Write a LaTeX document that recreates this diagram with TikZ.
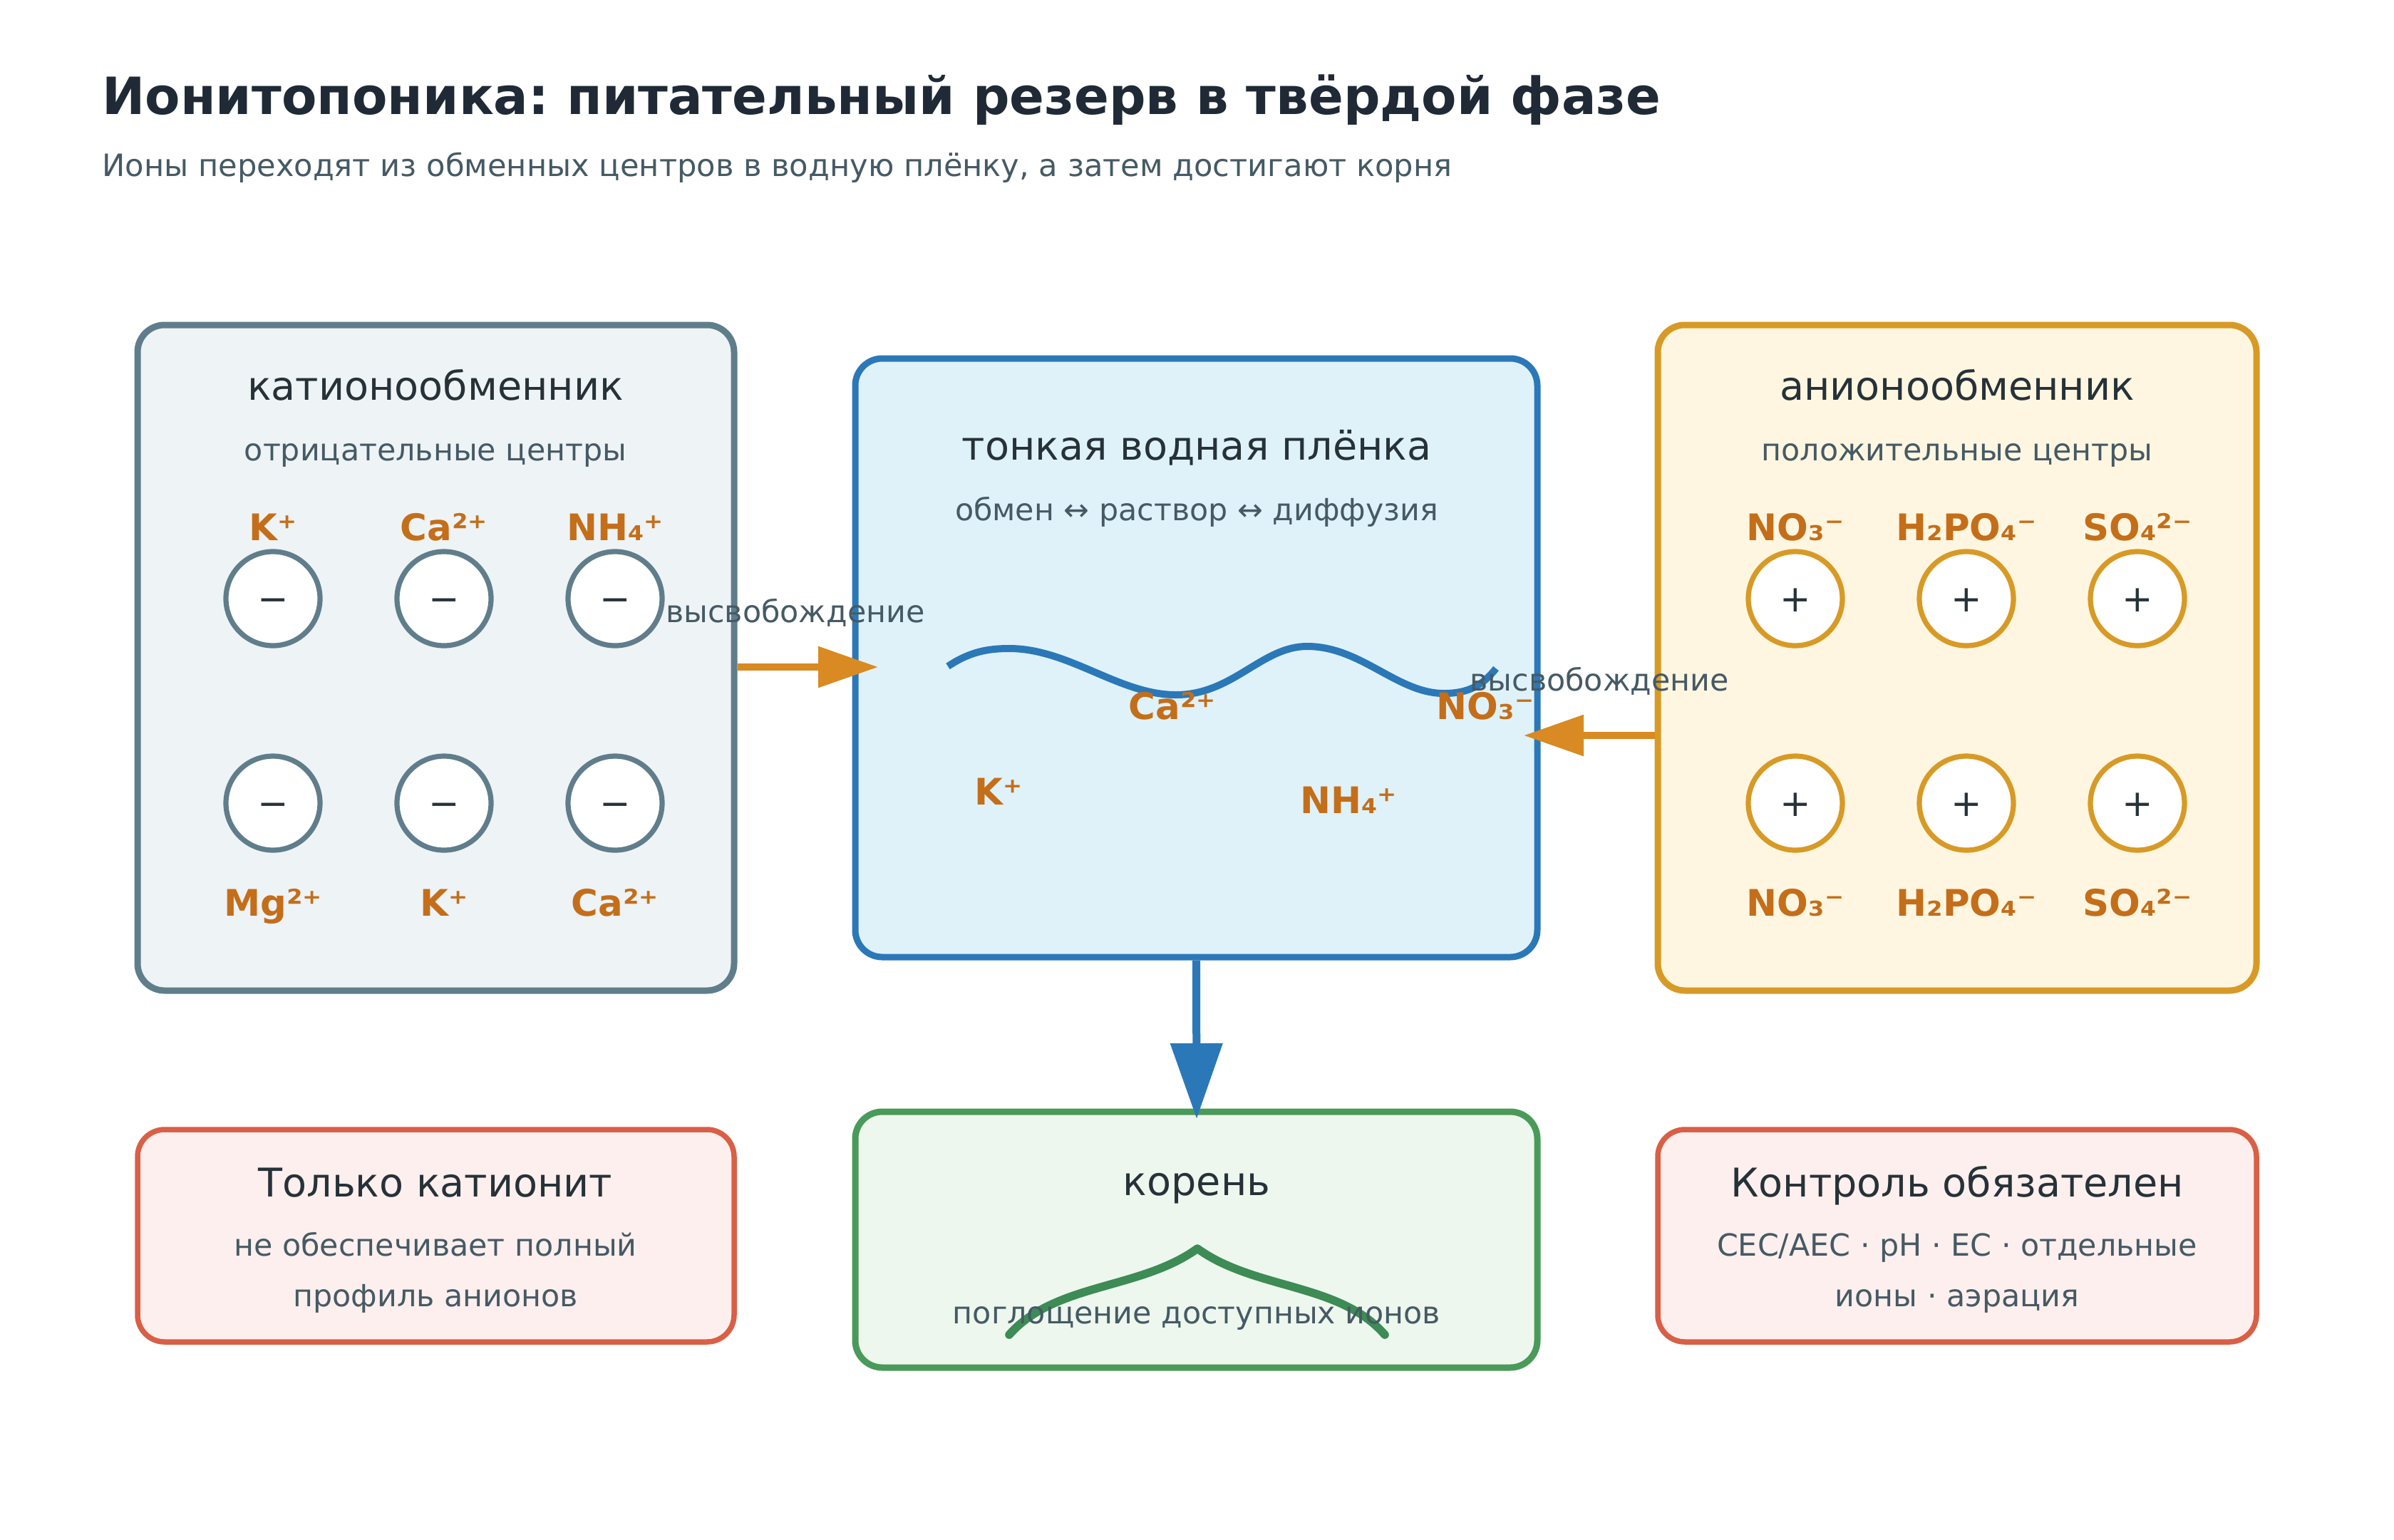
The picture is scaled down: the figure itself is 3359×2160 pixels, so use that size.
\documentclass[tikz,border=0pt]{standalone}
\usepackage{fontspec}
\setmainfont{DejaVu Sans}
\usetikzlibrary{arrows.meta}
\definecolor{titlec}{HTML}{1F2A36}
\definecolor{darkc}{HTML}{263238}
\definecolor{subc}{HTML}{455A64}
\definecolor{ionc}{HTML}{C46E1A}
\definecolor{catS}{HTML}{607D8B}
\definecolor{catF}{HTML}{EEF3F6}
\definecolor{filmS}{HTML}{2B78B8}
\definecolor{filmF}{HTML}{DFF2F9}
\definecolor{anS}{HTML}{D89A26}
\definecolor{anF}{HTML}{FEF6E0}
\definecolor{warnS}{HTML}{D95F46}
\definecolor{warnF}{HTML}{FDEFED}
\definecolor{rootS}{HTML}{4A9A5A}
\definecolor{rootF}{HTML}{EDF7EE}
\definecolor{rootL}{HTML}{3D8B55}
\definecolor{arrO}{HTML}{D98A22}
\newcommand\myfs[1]{\fontsize{#1}{#1}\selectfont}
\frenchspacing
\begin{document}
\begin{tikzpicture}[x=0.5pt,y=-0.5pt,
  box/.style={rounded corners=19pt, line width=4.5pt, inner sep=0pt},
  thinbox/.style={box, line width=3.75pt},
  ion/.style={font=\bfseries\myfs{25.7pt}, text=ionc, inner sep=0pt, anchor=base},
  site/.style={circle, minimum size=66pt, line width=3.6pt, fill=white, inner sep=0pt},
  sign/.style={font=\myfs{26pt}, text=darkc, inner sep=0pt, anchor=base},
  hd/.style={font=\myfs{27.8pt}, text=darkc, inner sep=0pt, anchor=base},
  sub/.style={font=\myfs{21.4pt}, text=subc, inner sep=0pt, anchor=base},
  oarr/.style={draw=arrO, line width=4.6pt, -{Triangle[length=42pt, width=28pt]}, arrO},
  barr/.style={draw=filmS, line width=5.5pt, -{Triangle[length=53pt, width=35.5pt]}, filmS}
]
\useasboundingbox (0,0) rectangle (3359,2160);
\fill[white] (0,0) rectangle (3359,2160);

% title
\node[anchor=base west, font=\bfseries\myfs{36pt}, text=titlec, inner sep=0pt] (title) at (143,160) {Ионитопоника: питательный резерв в твёрдой фазе};
\node[anchor=base west, font=\myfs{21.6pt}, text=subc, inner sep=0pt] (subtitle) at (143,247) {Ионы переходят из обменных центров в водную плёнку, а затем достигают корня};

% boxes
\node[box, draw=catS, fill=catF, minimum width=418.5pt, minimum height=467pt] (cat) at (611.5,923) {};
\node[box, draw=filmS, fill=filmF, minimum width=478.5pt, minimum height=420pt] (film) at (1678.5,923) {};
\node[box, draw=anS, fill=anF, minimum width=420pt, minimum height=467pt] (an) at (2746,923) {};
\node[thinbox, draw=warnS, fill=warnF, minimum width=418.5pt, minimum height=149pt] (warnA) at (611.5,1734) {};
\node[box, draw=rootS, fill=rootF, minimum width=478.5pt, minimum height=179.5pt] (root) at (1678.5,1739.5) {};
\node[thinbox, draw=warnS, fill=warnF, minimum width=420pt, minimum height=149pt] (warnB) at (2746,1734) {};

% cation exchanger
\node[hd] (catT) at (611,561) {катионообменник};
\node[sub] (catSub) at (611,646) {отрицательные центры};
\node[ion] (ci1) at (383,758) {K⁺};
\node[ion] (ci2) at (623,758) {Ca²⁺};
\node[ion] (ci3) at (863,758) {NH₄⁺};
\node[ion] (ci4) at (383,1285) {Mg²⁺};
\node[ion] (ci5) at (623,1285) {K⁺};
\node[ion] (ci6) at (863,1285) {Ca²⁺};
\foreach \x/\n in {383/1,623/2,863/3}{
  \node[site, draw=catS] (cs\n) at (\x,840) {};
  \node[sign] (cm\n) at (\x,858) {−};
  \node[site, draw=catS] (ct\n) at (\x,1127) {};
  \node[sign] (cn\n) at (\x,1145) {−};
}

% anion exchanger
\node[hd] (anT) at (2746,561) {анионообменник};
\node[sub] (anSub) at (2746,646) {положительные центры};
\node[ion] (ai1) at (2519,758) {NO₃⁻};
\node[ion] (ai2) at (2759,758) {H₂PO₄⁻};
\node[ion] (ai3) at (2999,758) {SO₄²⁻};
\node[ion] (ai4) at (2519,1285) {NO₃⁻};
\node[ion] (ai5) at (2759,1285) {H₂PO₄⁻};
\node[ion] (ai6) at (2999,1285) {SO₄²⁻};
\foreach \x/\n in {2519/1,2759/2,2999/3}{
  \node[site, draw=anS] (as\n) at (\x,840) {};
  \node[sign] (ap\n) at (\x,858) {+};
  \node[site, draw=anS] (at\n) at (\x,1127) {};
  \node[sign] (aq\n) at (\x,1145) {+};
}

% water film
\node[hd] (filmT) at (1679,645) {тонкая водная плёнка};
\node[sub] (filmSub) at (1679,730) {обмен ↔ раствор ↔ диффузия};
\draw[filmS, line width=5pt] (1330,935) .. controls (1360,915) and (1385,910) .. (1416,910)
  .. controls (1500,910) and (1570,975) .. (1650,975)
  .. controls (1730,975) and (1770,907) .. (1834,907)
  .. controls (1910,907) and (1960,973) .. (2026,973)
  .. controls (2060,973) and (2080,962) .. (2099,938);
\node[ion] (fi1) at (1645,1009) {Ca²⁺};
\node[ion] (fi2) at (2084,1009) {NO₃⁻};
\node[ion] (fi3) at (1401,1129) {K⁺};
\node[ion] (fi4) at (1892,1141) {NH₄⁺};

% arrows
\coordinate (tipL) at (1232,936);
\coordinate (tipR) at (2138,1032);
\coordinate (tipD) at (1679,1570);
\draw[oarr] (cat.east |- tipL) -- (tipL);
\draw[oarr] (an.west |- tipR) -- (tipR);
\draw[barr] (film.south) -- (tipD);
\node[sub] (relL) at (1116,873) {высвобождение};
\node[sub] (relR) at (2244,969) {высвобождение};

% bottom row
\node[hd] (wAT) at (611,1679) {Только катионит};
\node[sub] (wA1) at (611,1762) {не обеспечивает полный};
\node[sub] (wA2) at (611,1833) {профиль анионов};

\node[hd] (rootT) at (1679,1677) {корень};
\draw[rootL, line width=5.8pt, line cap=round, line join=round] (1416,1873) .. controls (1480,1800) and (1600,1810) .. (1680,1752)
  .. controls (1760,1810) and (1880,1800) .. (1943,1873);
\node[sub] (rootSub) at (1679,1857) {поглощение доступных ионов};

\node[hd] (wBT) at (2746,1679) {Контроль обязателен};
\node[sub] (wB1) at (2746,1762) {CEC/AEC · pH · EC · отдельные};
\node[sub] (wB2) at (2746,1833) {ионы · аэрация};
\end{tikzpicture}
\end{document}
